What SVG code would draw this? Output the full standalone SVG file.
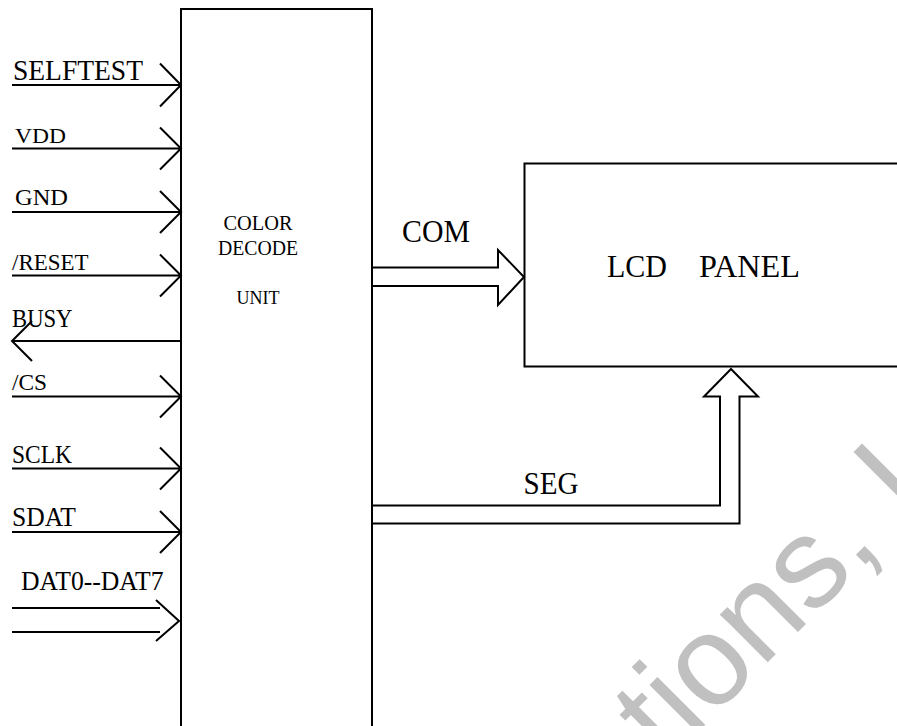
<svg xmlns="http://www.w3.org/2000/svg" width="897" height="726" viewBox="0 0 897 726">
<style>
.ln{fill:none;stroke:#000;stroke-width:2;stroke-linejoin:miter;stroke-linecap:butt}
.t{fill:#000}
.wm{fill:#c0c0c0;font-size:128px}
</style>
<rect x="0" y="0" width="897" height="726" fill="#fff"/>
<text class="wm" font-family="'Liberation Sans', Arial, sans-serif" transform="translate(666,764) rotate(-45)">tions, I</text>
<g id="decode-unit" font-family="'Liberation Serif', 'DejaVu Serif', serif">
<path class="ln" d="M181,740 V9 H372 V740"/>
<text class="t" x="258" y="230" font-size="20" text-anchor="middle" textLength="69" lengthAdjust="spacingAndGlyphs">COLOR</text>
<text class="t" x="258" y="255" font-size="20" text-anchor="middle" textLength="80" lengthAdjust="spacingAndGlyphs">DECODE</text>
<text class="t" x="258" y="304" font-size="19" text-anchor="middle" textLength="43" lengthAdjust="spacingAndGlyphs">UNIT</text>
</g>
<g id="lcd-panel" font-family="'Liberation Serif', 'DejaVu Serif', serif">
<path class="ln" d="M910,163.5 H524.5 V366.5 H910"/>
<text class="t" y="277" font-size="32"><tspan x="607" textLength="60" lengthAdjust="spacingAndGlyphs">LCD</tspan><tspan x="699" textLength="101" lengthAdjust="spacingAndGlyphs">PANEL</tspan></text>
</g>
<g id="connectors">
<path class="ln" d="M12,85 H181 M160,63.5 L181,85 L160,106.5"/>
<path class="ln" d="M12,148.5 H181 M160,127.5 L181,148.5 L160,169.5"/>
<path class="ln" d="M12,212 H181 M160,191 L181,212 L160,233"/>
<path class="ln" d="M12,275.5 H181 M160,254.5 L181,275.5 L160,296.5"/>
<path class="ln" d="M12,341 H181 M32,321 L12,341 L32,361"/>
<path class="ln" d="M12,396.5 H181 M160,375.5 L181,396.5 L160,417.5"/>
<path class="ln" d="M12,468.5 H181 M160,447.5 L181,468.5 L160,489.5"/>
<path class="ln" d="M12,532 H181 M160,511 L181,532 L160,553"/>
<path class="ln" d="M12,608 H160 M12,632 H160 M156,600 L179,621 L156,641"/>
<path class="ln" d="M372,267.5 H498 V250 L524,277 L498,305 V286 H372"/>
<path class="ln" d="M372,505.5 H720 V396.5 H704 L731,369 L758,396.5 H739.5 V523.5 H372"/>
</g>
<g id="labels" font-family="'Liberation Serif', 'DejaVu Serif', serif">
<text class="t" x="13" y="80" font-size="30" textLength="130" lengthAdjust="spacingAndGlyphs">SELFTEST</text>
<text class="t" x="15" y="143" font-size="22" textLength="51" lengthAdjust="spacingAndGlyphs">VDD</text>
<text class="t" x="15" y="205" font-size="22.5" textLength="53" lengthAdjust="spacingAndGlyphs">GND</text>
<text class="t" x="12" y="269.5" font-size="24" textLength="76.5" lengthAdjust="spacingAndGlyphs">/RESET</text>
<text class="t" x="12" y="326.5" font-size="25" textLength="60.5" lengthAdjust="spacingAndGlyphs">BUSY</text>
<text class="t" x="12" y="390" font-size="22.5" textLength="35" lengthAdjust="spacingAndGlyphs">/CS</text>
<text class="t" x="12" y="462.5" font-size="26" textLength="60" lengthAdjust="spacingAndGlyphs">SCLK</text>
<text class="t" x="12" y="525.5" font-size="28" textLength="64" lengthAdjust="spacingAndGlyphs">SDAT</text>
<text class="t" x="21" y="590" font-size="27.5" textLength="142.5" lengthAdjust="spacingAndGlyphs">DAT0--DAT7</text>
<text class="t" x="402" y="241.5" font-size="32.5" textLength="68" lengthAdjust="spacingAndGlyphs">COM</text>
<text class="t" x="523.5" y="493.5" font-size="32.5" textLength="55" lengthAdjust="spacingAndGlyphs">SEG</text>
</g>
</svg>
